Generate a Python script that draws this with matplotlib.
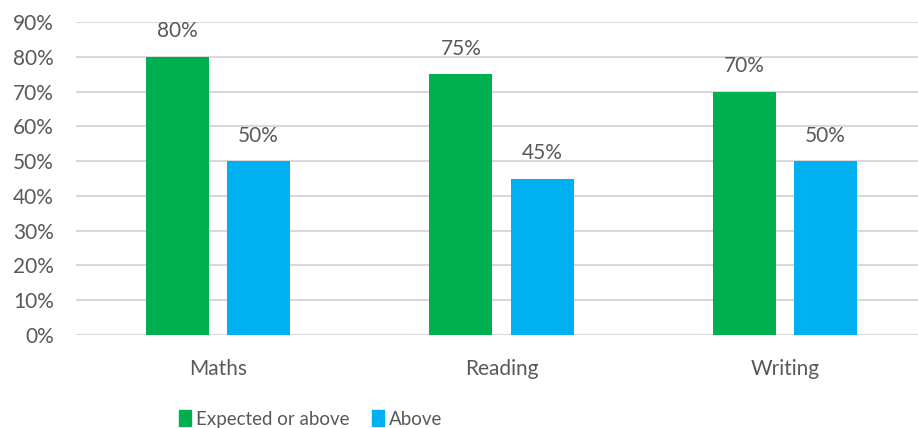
import matplotlib.pyplot as plt
from matplotlib.patches import Patch
import numpy as np

categories = ["Maths", "Reading", "Writing"]
expected = [0.80, 0.75, 0.70]
above = [0.50, 0.45, 0.50]
series_names = ["Expected or above", "Above"]

GREEN = "#00B050"
BLUE = "#00B0F0"
TEXT = "#595959"
GRID = "#D9D9D9"

plt.rcParams['font.family'] = ['Lato', 'DejaVu Sans']

fig = plt.figure(figsize=(9.18, 4.28), dpi=100)
ax = fig.add_axes([76 / 918, 1 - 335 / 428, 851 / 918, (335 - 22) / 428])

x = np.arange(len(categories))
w = 0.222
off = 0.143
b1 = ax.bar(x - off, expected, w, color=GREEN, zorder=3)
b2 = ax.bar(x + off, above, w, color=BLUE, zorder=3)

for bars, vals in ((b1, expected), (b2, above)):
    for rect, v in zip(bars, vals):
        ax.annotate(f"{v:.0%}", (rect.get_x() + rect.get_width() / 2, v),
                    xytext=(0, 11), textcoords="offset points",
                    ha="center", va="bottom", fontsize=15, color=TEXT)

ax.set_xlim(-0.5, 2.5)
ax.set_ylim(0, 0.9)
ax.set_yticks(np.arange(0, 0.91, 0.1))
ax.set_yticklabels([f"{t:.0%}" for t in np.arange(0, 0.91, 0.1)])
ax.set_xticks(x)
ax.set_xticklabels(categories)
ax.tick_params(axis="both", length=0, labelsize=15, colors=TEXT)
ax.tick_params(axis="x", pad=17)
ax.tick_params(axis="y", pad=16)
ax.grid(axis="y", color=GRID, linewidth=1.5, zorder=0)
for s in ax.spines.values():
    s.set_visible(False)

handles = [Patch(color=GREEN), Patch(color=BLUE)]
fig.legend(handles, series_names, loc="center", bbox_to_anchor=(0.338, 1 - 419 / 428),
           ncol=2, frameon=False, fontsize=13.5, labelcolor=TEXT,
           handlelength=0.65, handleheight=0.9, handletextpad=0.25, columnspacing=1.2)

fig.savefig("out.png", dpi=100)
